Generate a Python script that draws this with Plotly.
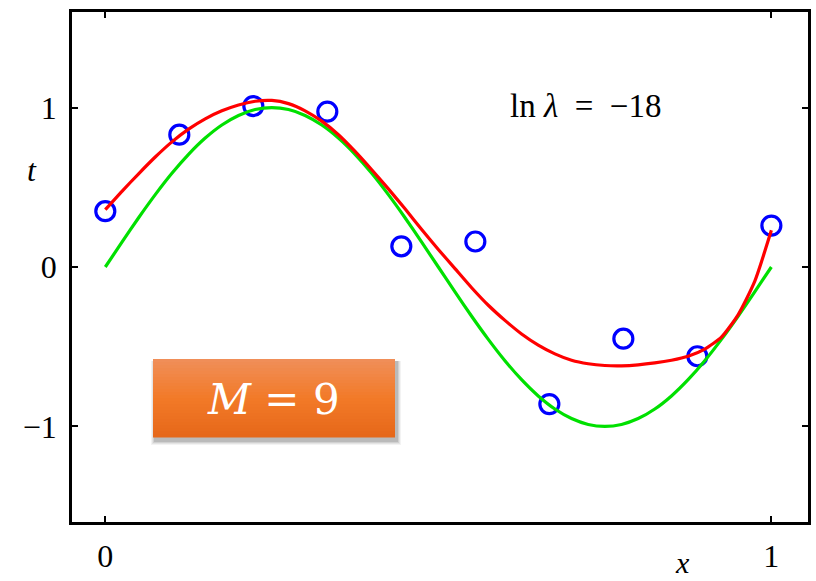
import plotly.graph_objects as go

# Training observations (x_n, t_n)
x_obs = [0.0, 1/9, 2/9, 3/9, 4/9, 5/9, 6/9, 7/9, 8/9, 1.0]
t_obs = [0.35, 0.83, 1.01, 0.975, 0.13, 0.16, -0.86, -0.45, -0.56, 0.26]

# Underlying curve sampled on a grid
x_true = [0.0, 0.025, 0.05, 0.075, 0.1, 0.125, 0.15, 0.175, 0.2, 0.225,
          0.25, 0.275, 0.3, 0.325, 0.35, 0.375, 0.4, 0.425, 0.45, 0.475,
          0.5, 0.525, 0.55, 0.575, 0.6, 0.625, 0.65, 0.675, 0.7, 0.725,
          0.75, 0.775, 0.8, 0.825, 0.85, 0.875, 0.9, 0.925, 0.95, 0.975, 1.0]
t_true = [0.0, 0.156, 0.309, 0.454, 0.588, 0.707, 0.809, 0.891, 0.951, 0.988,
          1.0, 0.988, 0.951, 0.891, 0.809, 0.707, 0.588, 0.454, 0.309, 0.156,
          0.0, -0.156, -0.309, -0.454, -0.588, -0.707, -0.809, -0.891, -0.951, -0.988,
          -1.0, -0.988, -0.951, -0.891, -0.809, -0.707, -0.588, -0.454, -0.309, -0.156, 0.0]

# Regularised M = 9 polynomial fit sampled on a grid
x_fit = [0.0, 0.025, 0.05, 0.075, 0.1, 0.125, 0.15, 0.175, 0.2, 0.225,
         0.25, 0.275, 0.3, 0.325, 0.35, 0.375, 0.4, 0.425, 0.45, 0.475,
         0.5, 0.525, 0.55, 0.575, 0.6, 0.625, 0.65, 0.675, 0.7, 0.725,
         0.75, 0.775, 0.8, 0.825, 0.85, 0.875, 0.9, 0.925, 0.95, 0.975, 1.0]
t_fit = [0.36, 0.475, 0.585, 0.69, 0.785, 0.865, 0.93, 0.98, 1.017, 1.04,
         1.045, 1.025, 0.98, 0.915, 0.83, 0.725, 0.61, 0.49, 0.365, 0.235,
         0.11, -0.01, -0.13, -0.24, -0.335, -0.42, -0.49, -0.545, -0.585, -0.607,
         -0.618, -0.62, -0.614, -0.602, -0.585, -0.56, -0.515, -0.44, -0.30, -0.09, 0.23]

x_ticks = [0, 1]
x_tick_text = ["0", "1"]
y_ticks = [-1, 0, 1]
y_tick_text = ["\u22121", "0", "1"]

SERIF = "Liberation Serif, DejaVu Serif, serif"
W, H = 816, 581
ML, MR, MT, MB = 72, 8, 12, 59


def px(xp):
    """pixel column -> paper x"""
    return (xp - ML) / (W - ML - MR)


def py(yp):
    """pixel row -> paper y"""
    return (H - MB - yp) / (H - MT - MB)


fig = go.Figure()
fig.add_trace(go.Scatter(x=x_obs, y=t_obs, mode="markers",
                         marker=dict(symbol="circle-open", size=19, color="#0000FF",
                                     line=dict(width=3.2, color="#0000FF")),
                         showlegend=False))
fig.add_trace(go.Scatter(x=x_true, y=t_true, mode="lines",
                         line=dict(color="#00E000", width=3.2, shape="spline", smoothing=0.6),
                         showlegend=False))
fig.add_trace(go.Scatter(x=x_fit, y=t_fit, mode="lines",
                         line=dict(color="#FF0000", width=3.2, shape="spline", smoothing=0.6),
                         showlegend=False))

axis_common = dict(showgrid=False, zeroline=False, showline=True, linecolor="black",
                   linewidth=2.5, mirror="ticks", ticks="inside", ticklen=6,
                   tickwidth=1.5, tickcolor="black", automargin=False,
                   tickfont=dict(family=SERIF, size=32, color="black"))

fig.update_xaxes(range=[-0.05, 1.055], tickvals=x_ticks, ticktext=x_tick_text,
                 ticklabelstandoff=4, **axis_common)
fig.update_yaxes(range=[-1.6, 1.6], tickvals=y_ticks, ticktext=y_tick_text,
                 ticklabelstandoff=6, **axis_common)

# Orange "M = 9" badge: soft drop shadow, then a vertical gradient of thin bands
bx0, bx1, by0, by1 = 153, 395, 359, 437
shapes = []
for k, op in enumerate([0.06, 0.08, 0.10, 0.14]):
    g = 4 - k
    shapes.append(dict(type="rect", xref="paper", yref="paper",
                       x0=px(bx0 - g + 2), x1=px(bx1 + g + 2),
                       y0=py(by1 + g + 4), y1=py(by0 + 2),
                       fillcolor=f"rgba(50,50,50,{op})", line=dict(width=0), layer="above"))
top = (240, 142, 88)
mid = (242, 122, 40)
bot = (230, 104, 26)
n = 26
for i in range(n):
    f = i / (n - 1)
    if f < 0.5:
        a, b, g = top, mid, f / 0.5
    else:
        a, b, g = mid, bot, (f - 0.5) / 0.5
    c = [round(a[j] + (b[j] - a[j]) * g) for j in range(3)]
    ya = by0 + (by1 - by0) * i / n
    yb = by0 + (by1 - by0) * (i + 1) / n
    shapes.append(dict(type="rect", xref="paper", yref="paper", x0=px(bx0), x1=px(bx1),
                       y0=py(yb + 0.4), y1=py(ya), fillcolor=f"rgb({c[0]},{c[1]},{c[2]})",
                       line=dict(width=0), layer="above"))
fig.update_layout(shapes=shapes)

fig.add_annotation(x=px(273), y=py(399), xref="paper", yref="paper",
                   text="<i>M</i> = 9", showarrow=False, xanchor="center", yanchor="middle",
                   font=dict(family="DejaVu Serif, serif", size=42, color="white"))
fig.add_annotation(x=px(585), y=py(106), xref="paper", yref="paper",
                   text="ln <i>\u03bb</i>&nbsp;&nbsp;=&nbsp;&nbsp;\u221218", showarrow=False,
                   xanchor="center", yanchor="middle",
                   font=dict(family=SERIF, size=33, color="black"))
fig.add_annotation(x=px(32), y=py(170), xref="paper", yref="paper", text="<i>t</i>",
                   showarrow=False, xanchor="center", yanchor="middle",
                   font=dict(family=SERIF, size=32, color="black"))
fig.add_annotation(x=px(682), y=py(562), xref="paper", yref="paper", text="<i>x</i>",
                   showarrow=False, xanchor="center", yanchor="middle",
                   font=dict(family=SERIF, size=30, color="black"))

fig.update_layout(width=W, height=H, plot_bgcolor="white", paper_bgcolor="white",
                  margin=dict(l=ML, r=MR, t=MT, b=MB))

fig.write_html("out.html")
